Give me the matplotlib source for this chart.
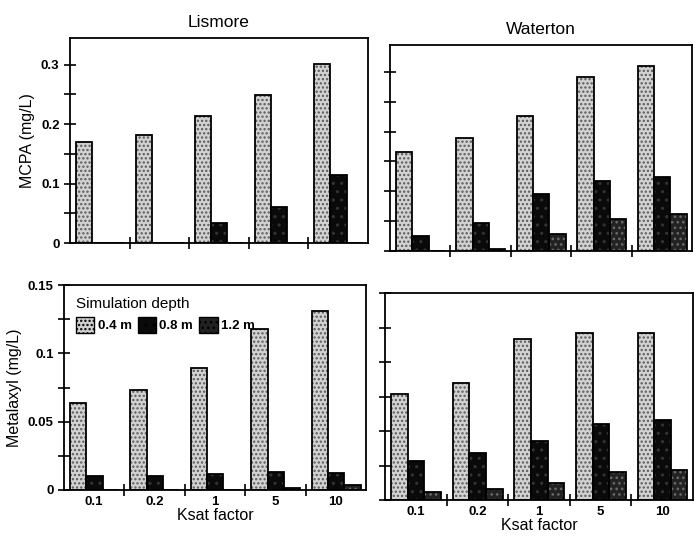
import matplotlib
matplotlib.use("Agg")
import matplotlib.pyplot as plt
import numpy as np
from matplotlib.ticker import MultipleLocator, FixedLocator
from matplotlib.patches import Patch

# Ksat multiplication factors and simulation depths
ksat = ["0.1", "0.2", "1", "5", "10"]
depths = ["0.4 m", "0.8 m", "1.2 m"]

# MCPA concentrations (mg/L)
mcpa_lismore_04 = [0.170, 0.182, 0.214, 0.249, 0.302]
mcpa_lismore_08 = [0.0, 0.0, 0.033, 0.060, 0.114]
mcpa_lismore_12 = [0.0, 0.0, 0.0, 0.0, 0.0]
mcpa_waterton_04 = [0.166, 0.190, 0.226, 0.292, 0.310]
mcpa_waterton_08 = [0.025, 0.047, 0.095, 0.117, 0.124]
mcpa_waterton_12 = [0.0, 0.004, 0.028, 0.053, 0.062]

# Metalaxyl concentrations (mg/L)
metal_lismore_04 = [0.064, 0.073, 0.089, 0.118, 0.131]
metal_lismore_08 = [0.0105, 0.0105, 0.012, 0.0135, 0.0125]
metal_lismore_12 = [0.0, 0.0, 0.0, 0.0015, 0.004]
metal_waterton_04 = [0.077, 0.085, 0.117, 0.121, 0.121]
metal_waterton_08 = [0.028, 0.034, 0.043, 0.055, 0.058]
metal_waterton_12 = [0.006, 0.008, 0.012, 0.020, 0.022]

plt.rcParams["font.family"] = ["Liberation Sans", "DejaVu Sans"]
plt.rcParams["hatch.linewidth"] = 1.1

styles = [
    dict(face="#d2d2d2", hatch="....", hcol="#5a5a5a"),
    dict(face="#0a0a0a", hatch="..", hcol="#333333"),
    dict(face="#222222", hatch="...", hcol="#6a6a6a"),
]

fig = plt.figure(figsize=(6.97, 5.38), dpi=100)


def px_axes(left, top, right, bottom):
    return fig.add_axes([left / 697, 1 - bottom / 538,
                         (right - left) / 697, (bottom - top) / 538])


ax_tl = px_axes(70, 38, 368, 243)
ax_tr = px_axes(390, 45, 692, 251)
ax_bl = px_axes(64, 285, 366, 490)
ax_br = px_axes(385, 293, 693, 500)

bar_w = 0.27
offset = 0.1
x0 = np.arange(len(ksat))


def draw_bars(ax, series):
    for i, vals in enumerate(series):
        st = styles[i]
        xs = x0 + offset + i * bar_w
        ax.bar(xs, vals, width=bar_w, align="edge", color=st["face"],
               edgecolor=st["hcol"], hatch=st["hatch"], linewidth=0, zorder=2)
        ax.bar(xs, vals, width=bar_w, align="edge", fill=False,
               edgecolor="black", linewidth=1.3, zorder=3)


def style_axes(ax, ymax, major, minor, show_ylabels, show_xlabels):
    ax.set_xlim(0, len(ksat))
    ax.set_ylim(0, ymax)
    for s in ax.spines.values():
        s.set_linewidth(1.3)
    ax.xaxis.set_major_locator(FixedLocator(np.arange(1, len(ksat))))
    ax.xaxis.set_minor_locator(FixedLocator(x0 + 0.5))
    ax.tick_params(axis="x", which="major", direction="inout", length=8,
                   width=1.2, labelbottom=False)
    if show_xlabels:
        ax.set_xticklabels(ksat, minor=True, fontsize=9.5, fontweight="bold")
        ax.tick_params(axis="x", which="minor", length=0, pad=4)
    else:
        ax.tick_params(axis="x", which="minor", length=0, labelbottom=False)
    ax.yaxis.set_major_locator(MultipleLocator(major))
    ax.yaxis.set_minor_locator(MultipleLocator(minor))
    ax.tick_params(axis="y", which="both", direction="inout", length=8,
                   width=1.2)
    if not show_ylabels:
        ax.tick_params(axis="y", which="both", labelleft=False)


draw_bars(ax_tl, [mcpa_lismore_04, mcpa_lismore_08, mcpa_lismore_12])
draw_bars(ax_tr, [mcpa_waterton_04, mcpa_waterton_08, mcpa_waterton_12])
draw_bars(ax_bl, [metal_lismore_04, metal_lismore_08, metal_lismore_12])
draw_bars(ax_br, [metal_waterton_04, metal_waterton_08, metal_waterton_12])

style_axes(ax_tl, 0.345, 0.1, 0.05, True, False)
style_axes(ax_tr, 0.345, 0.05, 0.05, False, False)
style_axes(ax_bl, 0.15, 0.05, 0.025, True, True)
style_axes(ax_br, 0.15, 0.025, 0.025, False, True)

fmt = plt.FuncFormatter(lambda v, p: "0" if v == 0 else f"{v:g}")
for ax in (ax_tl, ax_bl):
    ax.yaxis.set_major_formatter(fmt)
    for t in ax.get_yticklabels():
        t.set_fontweight("bold")
        t.set_fontsize(9.5)

ax_tl.set_title("Lismore", fontsize=12.5, pad=8)
ax_tr.set_title("Waterton", fontsize=12.5, pad=8)
ax_tl.set_ylabel("MCPA (mg/L)", fontsize=11.5, labelpad=4)
ax_bl.set_ylabel("Metalaxyl (mg/L)", fontsize=11.5, labelpad=4)
ax_bl.set_xlabel("Ksat factor", fontsize=11.5, labelpad=0)
ax_br.set_xlabel("Ksat factor", fontsize=11.5, labelpad=0)

handles = []
for i, d in enumerate(depths):
    st = styles[i]
    handles.append(Patch(facecolor=st["face"], edgecolor="black",
                         hatch=st["hatch"], linewidth=1.0, label=d))
leg = ax_bl.legend(handles=handles, ncol=3, title="Simulation depth",
                   loc="upper left", bbox_to_anchor=(0.0, 1.0), frameon=False,
                   prop=dict(size=9.5, weight="bold"), title_fontsize=11,
                   handlelength=1.4, handleheight=1.4, handletextpad=0.25,
                   columnspacing=0.45, alignment="left", borderaxespad=0.5)
leg.set_zorder(1)

fig.savefig("out.png", dpi=100)
